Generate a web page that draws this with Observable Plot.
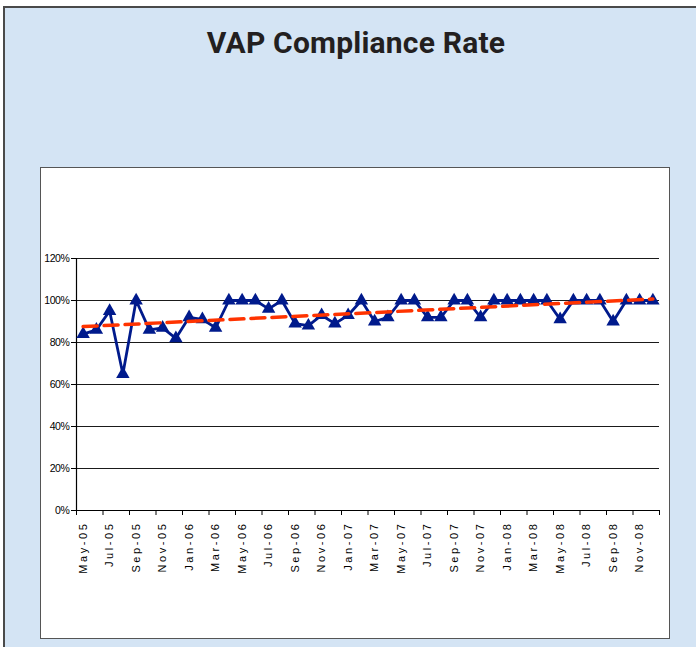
<!DOCTYPE html>
<html>
<head>
<meta charset="utf-8">
<script src="https://cdn.jsdelivr.net/npm/d3@7"></script>
<script src="https://cdn.jsdelivr.net/npm/@observablehq/plot@0.6"></script>
<style>
  html, body { margin: 0; padding: 0; overflow: hidden; background: #fff; width: 696px; height: 647px; }
  #panel { position: absolute; left: 3px; top: 6px; width: 760px; height: 760px; background: #d4e4f4; border: 2px solid #4a4a4a; box-sizing: border-box; }
  #title { position: absolute; left: 0; top: 25px; width: 712px; text-align: center; font-family: Roboto, "Liberation Sans", sans-serif; font-weight: 700; font-size: 30px; line-height: 36px; color: #231f20; letter-spacing: 0.2px; }
  #box { position: absolute; left: 40px; top: 167px; width: 628px; height: 470px; background: #fff; border: 1px solid #555; }
  #box svg { display: block; }
  #box svg g[aria-label="x-axis tick label"] text { letter-spacing: 2.6px; font-size: 11px; }
  #box svg g[aria-label="y-axis tick label"] text { letter-spacing: -0.4px; font-size: 10.5px; }
</style>
</head>
<body>
<div id="panel"></div>
<div id="title">VAP Compliance Rate</div>
<div id="box"></div>
<script>
const months = ["May-05","Jun-05","Jul-05","Aug-05","Sep-05","Oct-05","Nov-05","Dec-05",
  "Jan-06","Feb-06","Mar-06","Apr-06","May-06","Jun-06","Jul-06","Aug-06","Sep-06","Oct-06","Nov-06","Dec-06",
  "Jan-07","Feb-07","Mar-07","Apr-07","May-07","Jun-07","Jul-07","Aug-07","Sep-07","Oct-07","Nov-07","Dec-07",
  "Jan-08","Feb-08","Mar-08","Apr-08","May-08","Jun-08","Jul-08","Aug-08","Sep-08","Oct-08","Nov-08","Dec-08"];
const rates = [84, 86, 95, 65, 100, 86, 87, 82,
  92, 91, 87, 100, 100, 100, 96, 100, 89, 88, 93, 89,
  93, 100, 90, 92, 100, 100, 92, 92, 100, 100, 92, 100,
  100, 100, 100, 100, 91, 100, 100, 100, 90, 100, 100, 100];
const yTicks = [0, 20, 40, 60, 80, 100, 120];

const data = months.map((m, i) => ({i, month: m, rate: rates[i]}));
const n = months.length;
const labelIdx = d3.range(0, n, 2);
const boundaries = d3.range(-0.5, n, 2);

const chart = Plot.plot({
  width: 628,
  height: 470,
  marginLeft: 35,
  marginTop: 90,
  marginBottom: 128,
  marginRight: 10,
  style: {fontFamily: "'Liberation Sans', Arial, sans-serif", fontSize: "10px", color: "#000", background: "#fff"},
  x: {type: "linear", domain: [-0.5, n - 0.5]},
  y: {domain: [0, 120]},
  marks: [
    Plot.ruleY(yTicks.filter(d => d > 0), {stroke: "#1a1a1a", strokeWidth: 1.2}),
    Plot.ruleY([0], {stroke: "#000", strokeWidth: 1.2}),
    Plot.ruleX([-0.5], {stroke: "#000", strokeWidth: 1.2}),
    Plot.axisY({ticks: yTicks, tickFormat: d => d + "%", tickSize: 5, tickPadding: 2, label: null, stroke: "#000", strokeOpacity: 1}),
    Plot.axisX({ticks: boundaries, tickSize: 5, tickFormat: () => "", label: null, stroke: "#000", strokeOpacity: 1}),
    Plot.axisX({ticks: labelIdx, tickSize: 0, tickRotate: -90, tickPadding: 11, tickFormat: i => months[i], label: null}),
    Plot.line(data, {x: "i", y: "rate", stroke: "#001a8c", strokeWidth: 2.8}),
    Plot.dot(data, {x: "i", y: "rate", symbol: "triangle", r: 5, fill: "#001a8c", stroke: "none"}),
    Plot.linearRegressionY(data, {x: "i", y: "rate", stroke: "#ff3300", strokeWidth: 3.5, strokeDasharray: "14,7", ci: 0})
  ]
});
document.getElementById("box").appendChild(chart);
</script>
</body>
</html>
